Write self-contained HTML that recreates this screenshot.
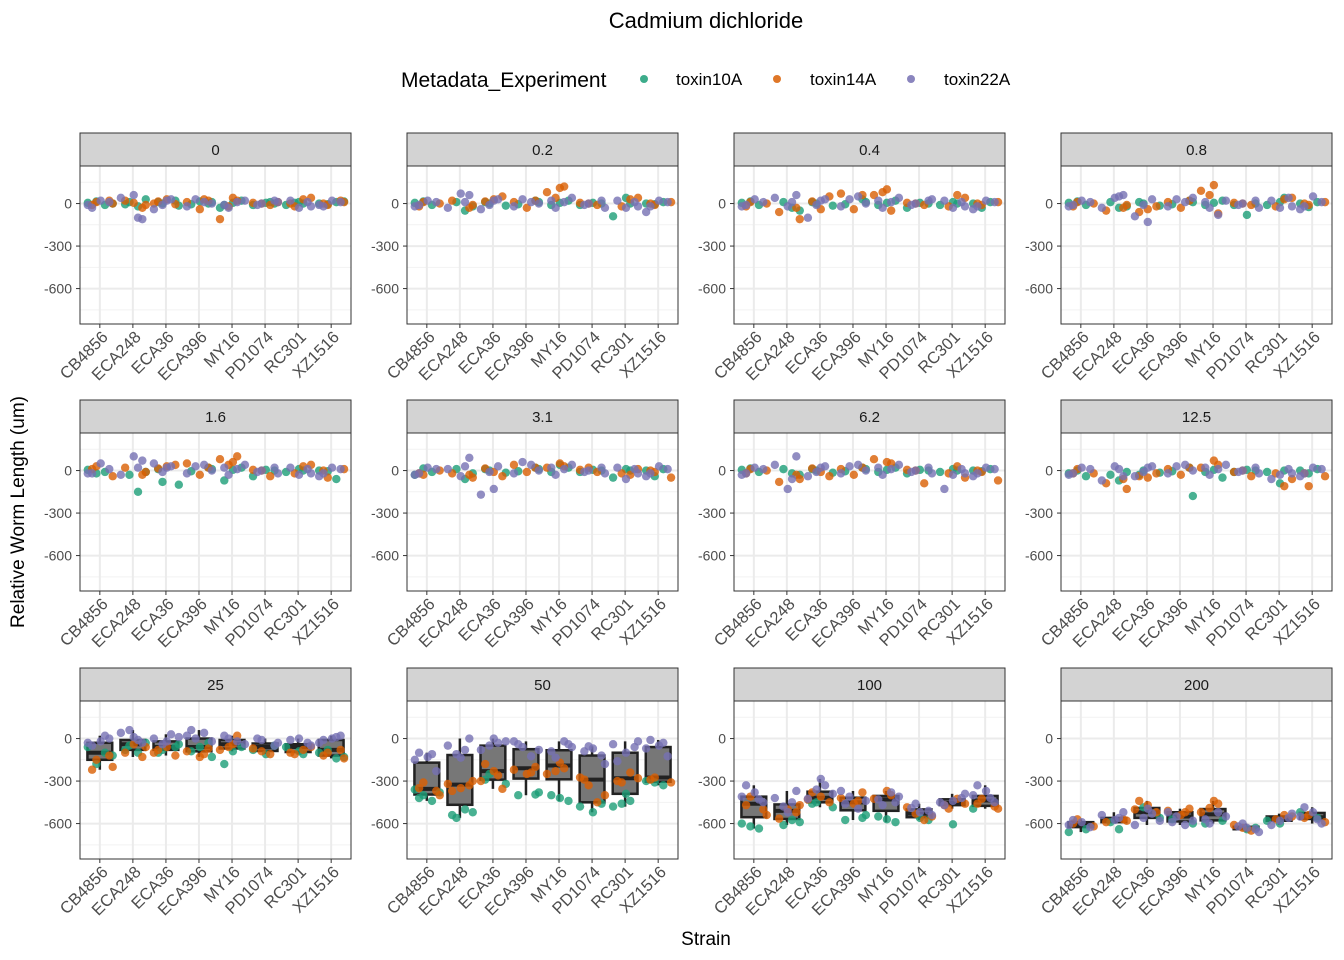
<!DOCTYPE html>
<html><head><meta charset="utf-8"><style>
html,body{margin:0;padding:0;background:#fff;}
svg{display:block;font-family:"Liberation Sans",Arial,sans-serif;}
</style></head><body>
<svg id="chart" width="1344" height="960" viewBox="0 0 1344 960">
<text x="706" y="28" text-anchor="middle" font-size="22" fill="#000">Cadmium dichloride</text>
<g>
<text x="401" y="87" font-size="21" fill="#000">Metadata_Experiment</text>
<circle cx="644" cy="79" r="4" fill="#1b9e77" opacity="0.85"/>
<text x="676" y="85" font-size="17">toxin10A</text>
<circle cx="777" cy="79" r="4" fill="#d95f02" opacity="0.85"/>
<text x="810" y="85" font-size="17">toxin14A</text>
<circle cx="911" cy="79" r="4" fill="#7570b3" opacity="0.85"/>
<text x="944" y="85" font-size="17">toxin22A</text>
</g>
<text transform="translate(24,512) rotate(-90)" text-anchor="middle" font-size="19">Relative Worm Length (um)</text>
<text x="706" y="945" text-anchor="middle" font-size="19">Strain</text>
<g id="panels"></g>
</svg>
<script>
const strains = ["CB4856","ECA248","ECA36","ECA396","MY16","PD1074","RC301","XZ1516"];
const concentrations = ["0","0.2","0.4","0.8","1.6","3.1","6.2","12.5","25","50","100","200"];
const toxins = ["toxin10A","toxin14A","toxin22A"];
const yTicks = [0,-300,-600];
const yTickLabels = ["0","-300","-600"];
const t10 = [
 [[5,-10,15,0],[-20,10,30,-5],[0,-15,10,20],[10,-5,0,15],[-10,20,5,-30],[0,5,-10,10],[10,-10,0,5],[0,10,-5,15]],
 [[5,-10,15],[-50,10,-20],[0,-15,10],[10,-5,20],[-10,20,5],[0,5,-10],[40,-90,0],[0,10,-5]],
 [[5,-10,15],[-30,10,-50],[0,-15,10],[10,-5,30],[-10,20,5],[0,5,-30],[10,-10,0],[0,10,-30]],
 [[5,-10,15],[-30,10,-20],[0,-15,10],[10,-5,20],[-10,20,5],[0,-80,-10],[10,-10,40],[0,10,-25]],
 [[5,-10,-20],[-150,-30,-10],[-80,-100,10],[10,-5,20],[-70,20,5],[0,5,-40],[10,-10,0],[0,-60,-5]],
 [[-30,-10,15],[-60,10,-20],[0,-15,10],[10,-5,20],[-10,20,40],[0,5,-10],[10,-50,0],[0,10,-40]],
 [[5,-10,15],[-20,10,-30],[0,-15,10],[10,-5,20],[-10,20,5],[0,5,-20],[10,-10,0],[0,10,-5]],
 [[-20,-40,0],[-70,-30,-10],[0,-15,-30],[-180,-5,20],[-10,-50,5],[0,5,-10],[-90,-10,0],[0,10,-20]],
 [[-60,-100,-180,-120],[-100,-50,-30,-80],[-80,-40,-100,-60],[-130,-90,-30,-60],[-180,-60,-90],[-50,-110,-80],[-90,-60,-110],[-100,-140,-80,-130]],
 [[-360,-440,-400,-380,-420],[-500,-560,-520,-540],[-250,-320,-290],[-380,-400,-395],[-400,-440,-420],[-460,-520,-480],[-390,-480,-440,-460],[-300,-330,-310]],
 [[-600,-635,-620],[-575,-610,-590],[-450,-485,-460],[-540,-575,-560],[-550,-590,-570],[-575,-560],[-605],[-495]],
 [[-660,-640],[-640,-590],[-485,-560],[-600,-570],[-600,-580],[-630,-640],[-600,-580],[-520,-560]]
];
const t14 = [
 [[10,0,-10,20],[-10,20,-30,5],[15,-5,30,0],[20,-40,10,30],[40,-110,20,-20],[5,-10,0,10],[30,-20,40,0],[-10,10,0,20]],
 [[10,0,-20],[-10,20,-30],[15,50,30],[20,-30,10],[110,80,120,40],[5,-10,0],[30,-20,40],[-10,10,0]],
 [[10,0,-20],[-110,-60,-30],[15,50,-40],[60,-40,70],[100,60,-50,80],[5,-10,0],[60,-20,40],[-10,10,0]],
 [[10,0,-20],[-10,-50,-30],[-60,-20,-40],[20,-30,10],[130,90,-70,60],[5,-10,0],[30,-20,40],[-10,10,0]],
 [[30,-40,10],[-10,20,-30],[15,40,30],[20,-30,50],[60,80,100,40],[5,-40,0],[30,-20,40],[-50,10,0]],
 [[-30,0,-20],[-50,-20,-30],[15,-40,-10],[20,-10,40],[50,20,30],[5,-10,20],[-30,-20,10],[-10,-50,0]],
 [[10,0,-20],[-60,-80,-30],[15,-40,-10],[20,-30,10],[60,80,50],[5,-90,0],[30,-20,-50],[-10,-70,0]],
 [[10,-20,-20],[-130,-90,-60],[-40,-20,-50],[20,-30,10],[70,20,40],[-10,-40,0],[-110,-20,-60],[-110,-40,-20]],
 [[-150,-200,-220,-120],[-60,-100,-130,-40],[-80,-120,-60,-100],[-70,-130,-90,-110],[-40,-80,20,-60],[-70,-110,-90],[-80,-110,-60,-100],[-100,-140,-120,-80]],
 [[-310,-400,-350,-370],[-300,-370,-330,-350,-320],[-180,-355,-230,-300,-260],[-200,-250,-220,-240],[-170,-250,-210,-230],[-275,-450,-330,-400,-290],[-240,-310,-280,-300],[-275,-310,-290]],
 [[-410,-540,-470,-500],[-470,-565,-520,-500],[-380,-450,-410,-430],[-380,-460,-420,-440],[-370,-425,-400],[-485,-575,-530,-550],[-425,-495,-460,-470],[-425,-495,-460,-480]],
 [[-570,-620,-600],[-580,-590,-570],[-440,-520,-470,-500],[-495,-540,-510,-520],[-440,-520,-460,-490],[-610,-650,-630],[-540,-570,-550],[-540,-590,-560]]
];
const t22 = [
 [[-30,10,20,-10],[-110,60,40,-100],[20,-40,30,-10],[-20,10,30,0],[10,-30,20,-10],[0,10,-10,20],[-20,20,10,-30],[-20,10,20,-10]],
 [[-10,10,20,-20],[60,70,-30,10],[20,-40,30,-10],[-20,10,30,0],[10,-30,40,20],[0,-30,-10,20],[-20,20,10,-30],[-20,10,20,-60]],
 [[-10,10,30,-20],[60,-20,40,10],[20,-100,30,-10],[-20,50,30,0],[10,-30,40,20],[0,30,-10,20],[-20,20,10,-30],[-20,10,20,-40]],
 [[-10,10,20,-20],[60,40,-30,50],[-130,-90,30,-10],[-20,10,30,40],[-80,-30,20,10],[0,-30,-10,20],[-20,20,40,-30],[-20,10,50,-40]],
 [[-20,10,50,-20],[70,100,-30,20],[20,50,30,-10],[-20,40,30,0],[10,-30,40,20],[0,-20,-10,20],[-20,20,10,-30],[-20,10,20,-40]],
 [[-20,10,20,-30],[90,-40,10,30],[-130,-170,30,-10],[-20,40,60,0],[10,-30,40,20],[0,-20,-10,20],[-20,20,10,-60],[-20,10,30,-40]],
 [[-20,10,20,-30],[100,-130,40,-60],[20,-40,30,-10],[-20,40,30,0],[10,-30,40,20],[0,-20,-10,20],[-20,-130,10,-30],[-20,10,20,-40]],
 [[-20,10,20,-30],[-40,30,-70,10],[20,-40,30,-10],[-20,40,30,0],[10,-30,40,20],[0,-20,-10,20],[-20,-60,10,-30],[-20,10,20,-40]],
 [[-50,0,-20,-30,20],[-30,10,40,-10,60],[-20,0,30,-40,10],[20,40,0,-20,60],[-20,0,-40,20],[-10,-30,0,-50],[-50,-10,-30,0],[-10,20,0,-30,10]],
 [[-100,-230,-130,-150,-110],[0,-135,-50,-80,-110],[0,-80,-30,-50,-20],[-20,-125,-60,-80,-40],[-20,-135,-60,-90,-40],[-55,-180,-90,-120,-70],[-20,-160,-60,-100,-40],[-10,-125,-50,-70,-30]],
 [[-330,-450,-380,-410,-430],[-370,-520,-420,-450,-480],[-285,-425,-330,-360,-390],[-370,-495,-410,-440,-460],[-380,-470,-410,-430,-450],[-460,-540,-490,-510,-520],[-390,-470,-420,-440,-450],[-330,-450,-370,-400,-420]],
 [[-575,-625,-590,-610],[-520,-575,-540,-560],[-495,-610,-530,-560,-580],[-520,-610,-550,-580,-590],[-520,-600,-550,-570],[-600,-660,-620,-640,-630],[-530,-610,-560,-580],[-485,-600,-520,-550,-570]]
];
const series = [t10, t14, t22];
const colors = ["#1b9e77","#d95f02","#7570b3"];
const jit = [-0.28,0.12,-0.08,0.3,-0.18,0.22,0.02];
const colX = [80,407,734,1061], rowY = [133,400,668];
const W = 271, STRIP = 33, H = 158, YMIN = -850, YMAX = 265;
const NS = "http://www.w3.org/2000/svg";
const root = document.getElementById('panels');
function mk(tag, attrs, parent){const e=document.createElementNS(NS,tag);for(const k in attrs)e.setAttribute(k,attrs[k]);parent.appendChild(e);return e;}
function quant(a,q){const s=[...a].sort((x,y)=>x-y);const p=(s.length-1)*q;const l=Math.floor(p);return s[l]+(s[Math.min(l+1,s.length-1)]-s[l])*(p-l);}
concentrations.forEach((c,pi)=>{
  const px = colX[pi%4], st = rowY[Math.floor(pi/4)], py = st+STRIP;
  const xS = i => px + (i+0.6)*W/8.2;
  const yS = v => py + (YMAX - v)/(YMAX-YMIN)*H;
  const g = mk('g',{},root);
  
  
  const strip = mk('rect',{x:px,y:st,width:W,height:STRIP,fill:'#d3d3d3',stroke:'#333','stroke-width':1},g);
  
  
  const stt = mk('text',{x:px+W/2,y:st+22,'text-anchor':'middle','font-size':15,fill:'#1a1a1a'},g);
  stt.textContent = c;
  
  
  mk('rect',{x:px,y:py,width:W,height:H,fill:'#fff'},g);
  [150,-150,-450,-750].forEach(v=>mk('line',{x1:px,x2:px+W,y1:yS(v),y2:yS(v),stroke:'#f2f2f2','stroke-width':1},g));
  yTicks.forEach(v=>mk('line',{x1:px,x2:px+W,y1:yS(v),y2:yS(v),stroke:'#ebebeb','stroke-width':2},g));
  strains.forEach((s,i)=>mk('line',{x1:xS(i),x2:xS(i),y1:py,y2:py+H,stroke:'#ebebeb','stroke-width':2},g));
  if(pi>=8){
    strains.forEach((s,i)=>{
      const all=[]; series.forEach(sr=>all.push(...sr[pi][i]));
      const q1=quant(all,0.25),q3=quant(all,0.75),md=quant(all,0.5),iqr=q3-q1;
      const lo=Math.min(...all.filter(v=>v>=q1-1.5*iqr)),hi=Math.max(...all.filter(v=>v<=q3+1.5*iqr));
      const bw=W/8.2*0.75;
      const wl = mk('line',{x1:xS(i),x2:xS(i),y1:yS(hi),y2:yS(lo),stroke:'#222','stroke-width':2.5},g);
      
      
      const b = mk('rect',{x:xS(i)-bw/2,y:yS(q3),width:bw,height:Math.max(1,yS(q1)-yS(q3)),fill:'#777',stroke:'#222','stroke-width':2.5},g);
      
      
      mk('line',{x1:xS(i)-bw/2,x2:xS(i)+bw/2,y1:yS(md),y2:yS(md),stroke:'#222','stroke-width':4},g);
    });
  }
  series.forEach((sr,ti)=>{
    strains.forEach((s,i)=>{
      sr[pi][i].forEach((v,k)=>{
        const dx = jit[(k+ti*2+i)%jit.length]*W/8.2*1.3;
        const p = mk('circle',{cx:xS(i)+dx,cy:yS(v),r:4.2,fill:colors[ti],'fill-opacity':0.8},g);
        
        
      });
    });
  });
  mk('rect',{x:px,y:py,width:W,height:H,fill:'none',stroke:'#333','stroke-width':1},g);
  yTicks.forEach((v,k)=>{
    mk('line',{x1:px-4,x2:px,y1:yS(v),y2:yS(v),stroke:'#333','stroke-width':1},g);
    const t = mk('text',{x:px-8,y:yS(v)+5,'text-anchor':'end','font-size':14,fill:'#4d4d4d'},g);
    t.textContent = yTickLabels[k];
    
    
  });
  strains.forEach((s,i)=>{
    mk('line',{x1:xS(i),x2:xS(i),y1:py+H,y2:py+H+4,stroke:'#333','stroke-width':1},g);
    const t = mk('text',{x:0,y:0,'text-anchor':'end','font-size':16.5,fill:'#4d4d4d',transform:`translate(${xS(i)+9},${py+H+14}) rotate(-45)`},g);
    t.textContent = s;
    
    
  });
});
</script>
</body></html>
